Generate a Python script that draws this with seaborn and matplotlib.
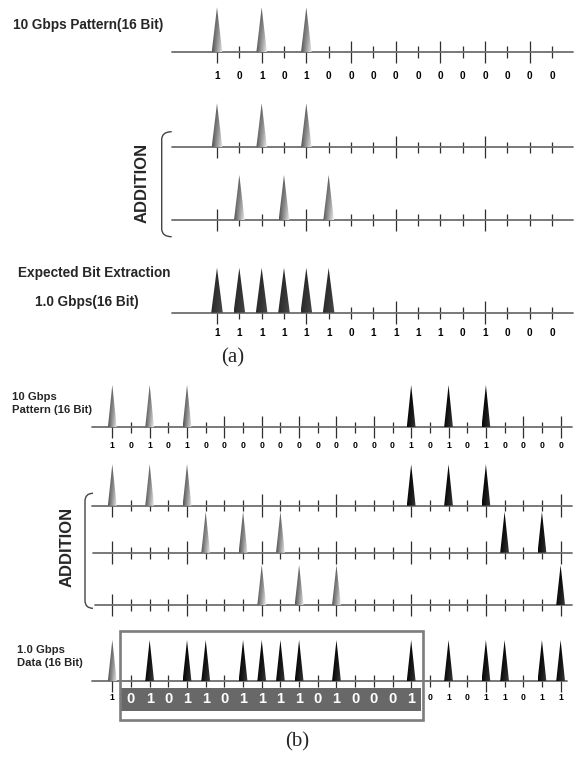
import numpy as np
import matplotlib
matplotlib.use("Agg")
import matplotlib.pyplot as plt
import seaborn as sns
import pandas as pd
from matplotlib.patches import Polygon, Rectangle, PathPatch
from matplotlib.path import Path

# ------------------------------------------------------------------ data
# (a) 16-bit example
a_pattern_gray = [0, 2, 4]
a_pattern_labels = "1010100000000000"
a_add1_gray = [0, 2, 4]
a_add2_gray = [1, 3, 5]
a_expected_dark = [0, 1, 2, 3, 4, 5]
a_expected_labels = "1111110111101000"

# (b) 25-slot example
b_pattern_gray = [0, 2, 4]
b_pattern_black = [16, 18, 20]
b_pattern_labels = "1010100000000000101010000"
b_add1_gray = [0, 2, 4]
b_add1_black = [16, 18, 20]
b_add2_gray = [5, 7, 9]
b_add2_black = [21, 23]
b_add3_gray = [8, 10, 12]
b_add3_black = [24]
b_data_gray = [0]
b_data_black = [2, 4, 5, 7, 8, 9, 10, 12, 16, 18, 20, 21, 23, 24]
b_data_first = "1"
b_data_boxed = "0101101111010001"
b_data_rest = "01011011"

# ------------------------------------------------------------------ style
sns.set_theme(style="white")
plt.rcParams["font.family"] = ["Liberation Sans", "DejaVu Sans"]

W, H = 581, 764
fig = plt.figure(figsize=(W / 100, H / 100), dpi=100)
fig.patch.set_facecolor("white")

# overlay in pixel coordinates for captions / brackets
ov = fig.add_axes([0, 0, 1, 1])
ov.set_xlim(0, W)
ov.set_ylim(H, 0)
ov.set_axis_off()

# gradient images for spikes
ny, nx = 80, 40
u = np.linspace(0, 1, nx)[None, :]
t = np.linspace(0, 1, ny)[:, None]
def rgb(v):
    v = np.clip(v, 0, 1)
    return np.dstack([v, v, v])
GRAD = {
    "gray": rgb(0.32 + 0.62 * u * (1 - t) ** 0.7 + 0.0 * t),
    "black": rgb(0.02 + 0.22 * u * (1 - t) ** 1.2),
    "dark": rgb(0.16 + 0.14 * u * (1 - t)),
}


def draw_row(lay, spikes, n, labels=None, label_size=7):
    x0, dx = lay["x0"], lay["dx"]
    ph = lay["base"] - lay["apex"]
    ax = fig.add_axes([lay["xl"] / W, 1 - lay["base"] / H,
                       (lay["xr"] - lay["xl"]) / W, ph / H])
    ax.set_axis_off()
    xmin = (lay["xl"] - x0) / dx
    xmax = (lay["xr"] - x0) / dx
    ax.set_xlim(xmin, xmax)
    ax.set_ylim(0, 1)
    ax.set_autoscale_on(False)

    line = pd.DataFrame({"x": [xmin, xmax], "y": [0.0, 0.0]})
    sns.lineplot(data=line, x="x", y="y", ax=ax, color="#6e6e6e",
                 linewidth=1.3, zorder=2, clip_on=False)

    idx = np.arange(n)
    long_ = idx % lay["long_every"] == 0
    ax.vlines(idx[long_], -11.0 / ph, 11.4 / ph, color="#2e2e2e", lw=0.9,
              clip_on=False, zorder=1)
    ax.vlines(idx[~long_], -5.8 / ph, 5.8 / ph, color="#2e2e2e", lw=0.9,
              clip_on=False, zorder=1)

    hw = lay["hw"] / dx
    for tone, ids in spikes:
        for i in ids:
            poly = Polygon([(i - hw, 0), (i, 1), (i + hw, 0)], closed=True,
                           facecolor="none", edgecolor="none",
                           transform=ax.transData)
            ax.add_patch(poly)
            im = ax.imshow(GRAD[tone], extent=(i - hw, i + hw, 0, 1),
                           origin="lower", aspect="auto",
                           interpolation="bilinear", zorder=3)
            im.set_clip_path(poly)
    if labels is not None:
        for i, s in labels:
            ax.text(i, -(lay["lab"] - lay["base"]) / ph, s, ha="center",
                    va="center", fontsize=label_size, fontweight="bold",
                    color="black", clip_on=False, zorder=4)
    return ax, ph


def bracket(x, top, bottom, tip, r=8):
    verts = [(tip, top), (x, top), (x, top + r),
             (x, bottom - r), (x, bottom), (tip, bottom)]
    codes = [Path.MOVETO, Path.CURVE3, Path.CURVE3,
             Path.LINETO, Path.CURVE3, Path.CURVE3]
    ov.add_patch(PathPatch(Path(verts, codes), facecolor="none",
                           edgecolor="#444444", lw=1.0))


# ------------------------------------------------------------------ (a)
A = dict(x0=217.0, dx=22.33, xl=172, xr=573, hw=5.3)
draw_row(dict(A, base=52.3, apex=7.3, long_every=2, lab=76.0),
         [("gray", a_pattern_gray)], 16,
         list(enumerate(a_pattern_labels)), 7.2)
draw_row(dict(A, base=147.3, apex=103.3, long_every=4, lab=0),
         [("gray", a_add1_gray)], 16)
draw_row(dict(A, base=220.0, apex=175.0, long_every=4, lab=0),
         [("gray", a_add2_gray)], 16)
draw_row(dict(A, base=312.7, apex=267.7, long_every=4, lab=333.3, hw=5.8),
         [("dark", a_expected_dark)], 16,
         list(enumerate(a_expected_labels)), 7.2)

ov.text(12.7, 25, "10 Gbps Pattern(16 Bit)", ha="left", va="center",
        fontsize=9.8, fontweight="bold")
ov.text(18.3, 273.3, "Expected Bit Extraction", ha="left", va="center",
        fontsize=9.8, fontweight="bold")
ov.text(35, 302.3, "1.0 Gbps(16 Bit)", ha="left", va="center",
        fontsize=9.8, fontweight="bold")
ov.text(141.7, 183.3, "ADDITION", rotation=90, ha="center", va="center",
        fontsize=12, fontweight="bold")
bracket(161.7, 131.7, 236.7, 171.7)
ov.text(233, 358, "(a)", ha="center", va="center", fontsize=15,
        family=["Liberation Serif", "DejaVu Serif"])

# ------------------------------------------------------------------ (b)
B = dict(x0=112.3, dx=18.68, xl=91.7, xr=571.7, hw=4.4)
draw_row(dict(B, base=427.3, apex=385.0, long_every=2, lab=445.7),
         [("gray", b_pattern_gray), ("black", b_pattern_black)], 25,
         list(enumerate(b_pattern_labels)), 6.2)
draw_row(dict(B, base=505.7, apex=464.3, long_every=4, lab=0),
         [("gray", b_add1_gray), ("black", b_add1_black)], 25)
draw_row(dict(B, base=552.7, apex=511.7, long_every=4, lab=0, xl=93),
         [("gray", b_add2_gray), ("black", b_add2_black)], 25)
draw_row(dict(B, base=605.0, apex=565.0, long_every=4, lab=0, xl=95),
         [("gray", b_add3_gray), ("black", b_add3_black)], 25)

small = [(0, b_data_first)] + [(17 + k, s) for k, s in enumerate(b_data_rest)]
axd, phd = draw_row(dict(B, base=681.0, apex=640.0, long_every=4, lab=697.0,
                         xr=566.7, xl=92.3),
                    [("gray", b_data_gray), ("black", b_data_black)], 25,
                    small, 6.2)
# highlight box around the 16 extracted bits
bx0, bx1 = (120 - 112.3) / 18.68, (422.7 - 112.3) / 18.68
axd.add_patch(Rectangle((bx0, (681 - 720) / phd), bx1 - bx0, (720 - 631) / phd,
                        facecolor="none", edgecolor="#7c7c7c", lw=1.9,
                        clip_on=False, zorder=5))
axd.add_patch(Rectangle((bx0 + 0.08, (681 - 710.7) / phd), bx1 - bx0 - 0.16,
                        (710.7 - 687.7) / phd, facecolor="#686868",
                        edgecolor="none", clip_on=False, zorder=4))
for k, s in enumerate(b_data_boxed):
    axd.text(1 + k, (681 - 698.6) / phd, s, ha="center", va="center",
             fontsize=10.5, fontweight="bold", color="white", clip_on=False,
             zorder=6)

ov.text(12, 403.5, "10 Gbps\nPattern (16 Bit)", ha="left", va="center",
        fontsize=8.1, fontweight="bold", linespacing=1.3)
ov.text(16.7, 656.5, "1.0 Gbps\nData (16 Bit)", ha="left", va="center",
        fontsize=8.1, fontweight="bold", linespacing=1.3)
ov.text(67.5, 547, "ADDITION", rotation=90, ha="center", va="center",
        fontsize=12, fontweight="bold")
bracket(85, 493.3, 608.3, 93)
ov.text(296.7, 741.7, "(b)", ha="center", va="center", fontsize=15,
        family=["Liberation Serif", "DejaVu Serif"])

fig.savefig("out.png", dpi=100, facecolor="white")
